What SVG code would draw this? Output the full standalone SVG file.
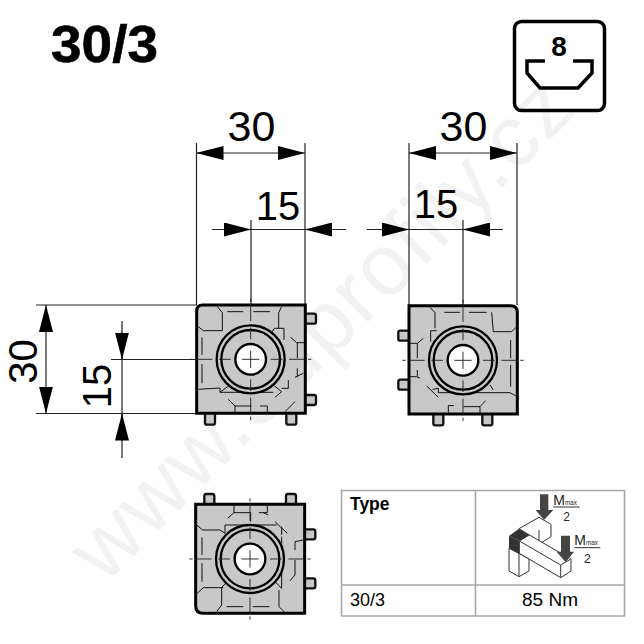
<svg xmlns="http://www.w3.org/2000/svg" width="644" height="644" viewBox="0 0 644 644">
<style>
.t{font-family:"Liberation Sans",Arial,sans-serif;fill:#000}
.dim{font-size:43px}
.dim2{font-size:40px}
.d{stroke:#222;stroke-width:1.2;fill:none}
.body{fill:#c8c8c8;stroke:#000;stroke-width:9}
.tab{fill:#c8c8c8;stroke:#111;stroke-width:7}
.ln{fill:none;stroke:#111;stroke-width:3}
.ctr{fill:none;stroke:#222;stroke-width:2.800}
.ring{fill:none;stroke:#000;stroke-width:7}
.grid{stroke:#a8a8a8;stroke-width:1.600;fill:none}
.iso{fill:#fff;stroke:#333;stroke-width:3;stroke-linejoin:round}
</style>
<defs>
<marker id="a" viewBox="0 0 27 14" refX="27" refY="7" markerWidth="27" markerHeight="14" markerUnits="userSpaceOnUse" orient="auto-start-reverse"><path d="M0 0L27 7L0 14Z" fill="#000"/></marker>
<path id="cross" class="ctr" d="M0-26V26M-26 0H26M0-95V-60M0 60V95M-95 0H-60M60 0H95M0-165V-115M0 115V165M-165 0H-115M115 0H165M0-182V-172M0 172V182M-182 0H-172M172 0H182"/>
<g id="hub">
<circle r="103" fill="#c8c8c8"/>
<circle class="ring" r="102"/>
<circle class="ring" r="88"/>
<circle r="46" fill="#fff" stroke="#000" stroke-width="7"/>
<use href="#cross"/>
</g>
</defs>
<rect width="644" height="644" fill="#fff"/>
<text id="watermark" transform="translate(105,585) rotate(-45)" font-family="Liberation Sans,sans-serif" font-size="87" fill="#f2f2f2" textLength="669">www.3dprofily.cz</text>
<text id="title" class="t" x="51" y="62" font-size="51" font-weight="700" textLength="107" lengthAdjust="spacingAndGlyphs" stroke="#000" stroke-width=".6">30/3</text>
<g id="icon">
<rect x="514.500" y="21.500" width="90" height="89" rx="7" fill="none" stroke="#000" stroke-width="3.500"/>
<path d="M545 61H527V73L540 88H578L592 73V61H573" fill="none" stroke="#000" stroke-width="3.500"/>
<text class="t" x="559" y="55.500" font-size="28" font-weight="700" text-anchor="middle">8</text>
</g>
<g id="connectors">
<path class="d" d="M196.500 143V305M305 143V305M251 220V305M212 229.500H346"/>
<path class="d" d="M196.500 153H305" marker-start="url(#a)" marker-end="url(#a)"/>
<path class="d" d="M224 229.500H251" marker-end="url(#a)"/>
<path class="d" d="M332 229.500H305" marker-end="url(#a)"/>
<path class="d" d="M409 143V305M517 143V305M463 220V305M367 229.500H503"/>
<path class="d" d="M409 153H517" marker-start="url(#a)" marker-end="url(#a)"/>
<path class="d" d="M382 229.500H409" marker-end="url(#a)"/>
<path class="d" d="M490 229.500H463" marker-end="url(#a)"/>
<path class="d" d="M36 305H197M36 413.500H197M111 359.500H197M122 321V458"/>
<path class="d" d="M46 305V413.500" marker-start="url(#a)" marker-end="url(#a)"/>
<path class="d" d="M122 332V359.500" marker-end="url(#a)"/>
<path class="d" d="M122 441V413.500" marker-end="url(#a)"/>
<text class="t dim" x="251.500" y="140.500" text-anchor="middle">30</text>
<text class="t dim2" x="278" y="220" text-anchor="middle">15</text>
<text class="t dim" x="463.500" y="141" text-anchor="middle">30</text>
<text class="t dim2" x="436" y="218" text-anchor="middle">15</text>
<text class="t dim2" font-size="41" transform="translate(37,361.500) rotate(-90)" text-anchor="middle">30</text>
<text class="t dim2" transform="translate(110.500,386) rotate(-90)" text-anchor="middle">15</text>
</g>
<g id="profile-left" transform="translate(180,290) scale(.3333)">
<rect class="tab" x="372" y="71" width="36" height="30" rx="6"/>
<rect class="tab" x="372" y="315" width="36" height="30" rx="6"/>
<rect class="tab" x="75" y="368" width="30" height="36" rx="6"/>
<rect class="tab" x="319" y="368" width="30" height="36" rx="6"/>
<path class="body" d="M68 45H376V370H50V63Q50 45 68 45Z"/>
<path class="ln" d="M112 50L127 68V122H70L52 108M142 65H190M220 65H270M305 50L296 68V115H283L265 142M296 115H312V150M66 142V195M66 222V280M332 142L350 158H372M352 158V205M352 235V262M345 262L370 250M55 298L120 294V307H280M120 307L150 285M280 285L305 305M305 305L285 322M325 270V295H305M145 328L165 348H215M240 348H262V370M165 348V368M315 365L345 335"/>
<use href="#hub" x="212" y="208"/>
</g>
<g id="profile-right" transform="translate(390,290) scale(.3333)">
<rect class="tab" x="25" y="122" width="36" height="30" rx="6"/>
<rect class="tab" x="25" y="269" width="36" height="30" rx="6"/>
<rect class="tab" x="130" y="370" width="30" height="36" rx="6"/>
<rect class="tab" x="277" y="370" width="30" height="36" rx="6"/>
<path class="body" d="M57 47H362Q382 47 382 67V372H57Z"/>
<path class="ln" d="M120 52L135 68V115M122 122H140M122 122V155M163 67H210M237 67H290M305 67L310 125H365L378 112M362 150V205M362 225V290M60 160H82L100 145M82 160V205M60 260H80L90 265M82 240V260M110 288L145 322M128 298L145 295V308H360L378 318M300 285L310 300M175 347H192M175 347V368M220 350H270V370M270 350L287 332"/>
<use href="#hub" x="219" y="211"/>
</g>
<g id="profile-bottom" transform="translate(180,480) scale(.3333)">
<rect class="tab" x="73" y="42" width="30" height="36" rx="6"/>
<rect class="tab" x="318" y="42" width="30" height="36" rx="6"/>
<rect class="tab" x="370" y="148" width="36" height="30" rx="6"/>
<rect class="tab" x="370" y="295" width="36" height="30" rx="6"/>
<path class="body" d="M47 73H374V400H70Q47 400 47 377Z"/>
<path class="ln" d="M162 78V98H212V125M162 98L143 115M237 98H262V78M250 98L265 105M50 135L68 150H120L135 160V135H290M285 125L322 160M305 140V165M305 170V325M345 185L370 180M345 185V210M345 240V285L330 302M66 172V225M66 250V305M52 340L70 323H130M125 345V322L135 312M125 345V375L110 395M140 380H190M218 380H268M297 330V380L315 398M285 305L305 325"/>
<use href="#hub" x="210" y="237"/>
</g>
<g id="table">
<path class="grid" d="M341.500 490.500H624.500V616H341.500ZM341.500 585H624.500M475.500 490.500V616"/>
<text class="t" x="350" y="510" font-size="17.500" font-weight="700">Type</text>
<text class="t" x="350" y="606" font-size="18">30/3</text>
<text class="t" x="550" y="606" font-size="19" text-anchor="middle">85 Nm</text>
</g>
<g id="load-case" transform="translate(470,485) scale(.3333)">
<path class="iso" d="M147 131L207 97L243 118V155L207 178L178 160L178 150Z"/>
<path class="iso" d="M207 135V178"/>
<path class="iso" d="M117 190V258L147 275L177 258V222L148 205ZM147 205V275"/>
<path class="iso" d="M178 150L303 222V258L272 278L148 205V168Z"/>
<path class="iso" d="M148 168L272 240L303 222M272 240V278"/>
<path d="M117 153L147 131L178 150L148 168Z" fill="#333"/>
<path d="M117 153L148 168V208L117 190Z" fill="#333"/>
<path d="M210 28H235V75H250L222 105L197 75H210ZM273 152H300V200H312L287 232L260 200H273Z" fill="#444"/>
<g font-family="Liberation Sans,sans-serif" fill="#222">
<text x="250" y="59" font-size="42">M<tspan font-size="19">max</tspan></text>
<text x="290" y="107" font-size="36" text-anchor="middle">2</text>
<text x="313" y="181" font-size="42">M<tspan font-size="19">max</tspan></text>
<text x="352" y="233" font-size="36" text-anchor="middle">2</text>
</g>
<path d="M250 66H329M313 188H391" stroke="#333" stroke-width="3"/>
</g>
</svg>
